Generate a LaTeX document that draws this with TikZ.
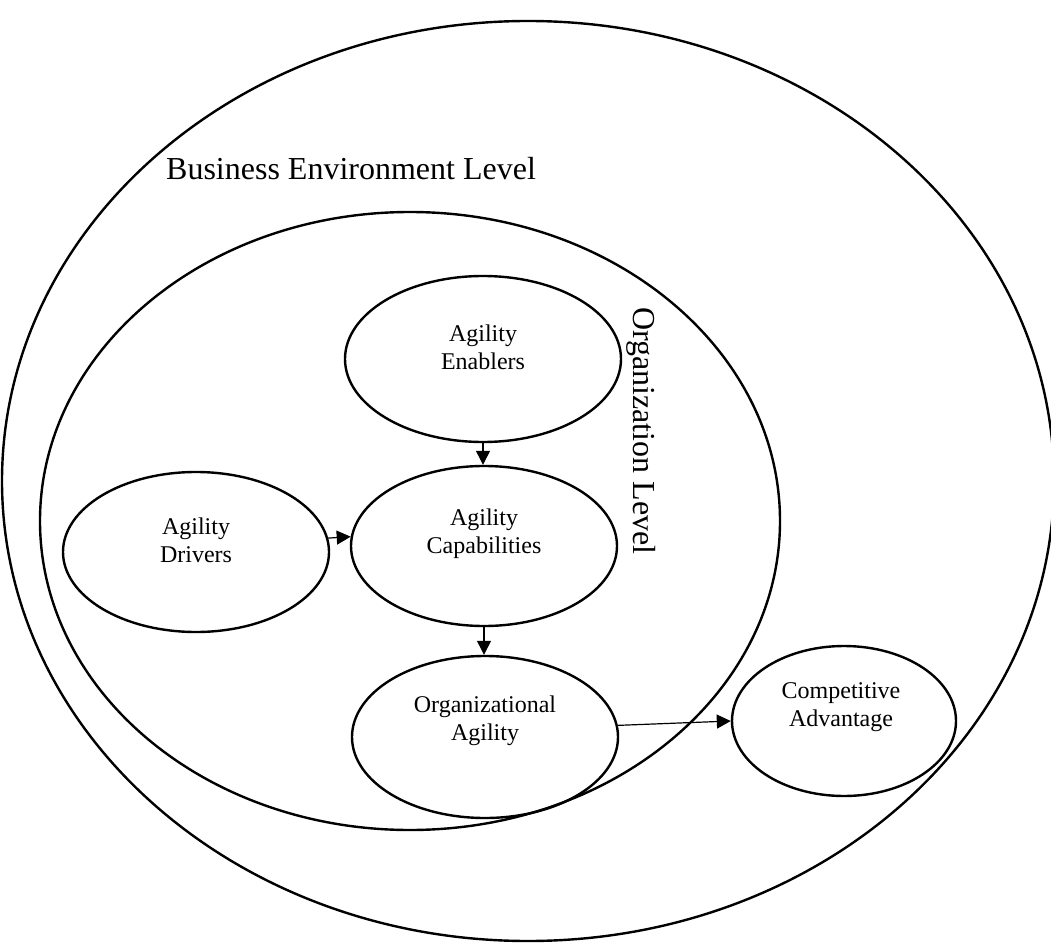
\documentclass[tikz,border=0pt]{standalone}
\usepackage{fontspec}
\setmainfont{Liberation Serif}
\usetikzlibrary{shapes.geometric,arrows.meta}
\begin{document}
\begin{tikzpicture}[x=1pt,y=-1pt,
  ring/.style={draw,line width=2.4pt,ellipse,inner sep=0pt},
  oval/.style={draw,line width=2.4pt,ellipse,inner sep=0pt},
  txt/.style={align=center,inner sep=0pt,font=\fontsize{24}{28}\selectfont},
  bigtxt/.style={inner sep=0pt,font=\fontsize{32}{38}\selectfont},
  arr/.style={line width=1.2pt,-{Triangle[length=14pt,width=14pt]}}]
\useasboundingbox (0,0) rectangle (1051,949);
% levels
\node[ring,minimum width=1052pt,minimum height=920pt] (env) at (528,481) {};
\node[ring,minimum width=740pt,minimum height=618pt] (org) at (410,521) {};
\node[bigtxt,anchor=base west] (envlbl) at (166,180) {Business Environment Level};
\node[bigtxt,anchor=base west,rotate=-90] (orglbl) at (633,307) {Organization Level};
% concept ovals
\node[oval,minimum width=276pt,minimum height=166pt] (AE) at (483,359) {};
\node[oval,minimum width=266pt,minimum height=160pt] (AD) at (196,552) {};
\node[oval,minimum width=266pt,minimum height=160pt] (AC) at (484,546) {};
\node[oval,minimum width=266pt,minimum height=162pt] (OA) at (485,737) {};
\node[oval,minimum width=224pt,minimum height=150pt] (CA) at (844,721) {};
% texts
\node[txt] (AEt) at ([yshift=12pt]AE.center) {Agility\\Enablers};
\node[txt] (ADt) at ([yshift=12pt]AD.center) {Agility\\Drivers};
\node[txt] (ACt) at ([yshift=12pt]AC.center) {Agility\\Capabilities};
\node[txt] (OAt) at ([yshift=16pt]OA.center) {Organizational\\Agility};
\node[txt] (CAt) at ([xshift=-3pt,yshift=14pt]CA.center) {Competitive\\Advantage};
% connectors
\draw[arr] (AE.south) -- (AE.south |- AC.north);
\draw[arr] (AD.6.55) -- (AC.176.1);
\draw[arr] (AC.south) -- (AC.south |- OA.north);
\draw[arr] (OA.5.6) -- (CA.west);
\end{tikzpicture}
\end{document}
